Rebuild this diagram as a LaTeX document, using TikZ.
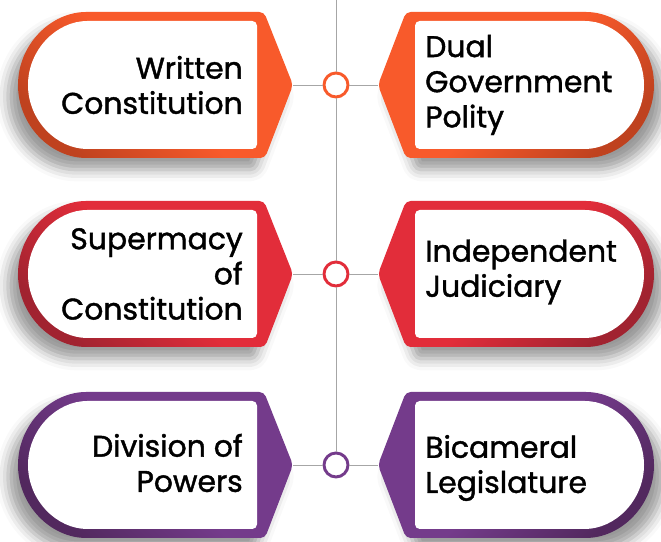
\documentclass[tikz,border=0pt]{standalone}
\usepackage{fontspec}
\setmainfont{Poppins}[FakeBold=1.4]
\usepackage{tikz}
\usetikzlibrary{shadows.blur}
\definecolor{orng}{HTML}{F85A2B}
\definecolor{orngdk}{HTML}{BF421F}
\definecolor{rd}{HTML}{E22D3A}
\definecolor{rddk}{HTML}{A12330}
\definecolor{prpl}{HTML}{743B8B}
\definecolor{prpldk}{HTML}{52285E}
\tikzstyle{hub} = [draw, circle, line width=2.5pt, fill=white, minimum size=0.72cm, inner sep=0]
\tikzstyle{link} = [draw=black!35, line width=0.8pt]
\tikzstyle{lefttext} = [anchor=east, align=right, inner sep=0, font=\fontsize{25.5}{30}\selectfont]
\tikzstyle{righttext} = [anchor=west, align=left, inner sep=0, font=\fontsize{25.5}{30}\selectfont]
\tikzstyle{leftshadow} = [blur shadow={shadow xshift=-0.3cm, shadow yshift=-0.35cm, shadow blur radius=0.35cm, shadow opacity=40}]
\tikzstyle{rightshadow} = [blur shadow={shadow xshift=0.3cm, shadow yshift=-0.35cm, shadow blur radius=0.35cm, shadow opacity=40}]
\tikzstyle{inner} = [fill=white, rounded corners=4pt]

\begin{document}
\begin{tikzpicture}[x=0.03cm, y=0.03cm]
\useasboundingbox (0,0) rectangle (661,542);

% top row
\path[leftshadow, top color=orng, bottom color=orngdk, middle color=orng, shading angle=-45, rounded corners=4pt]
(264,530) -- (293,457) -- (265,384) -- (91,384) arc[start angle=270, end angle=90, radius=2.19cm] -- cycle;
\path[inner] (257,521) -- (257,393) -- (92,393) arc[start angle=270, end angle=90, radius=1.92cm] -- cycle;
\path[rightshadow, top color=orng, bottom color=orngdk, middle color=orng, shading angle=45, rounded corners=4pt]
(406,530) -- (378,457) -- (406,384) -- (581,384) arc[start angle=-90, end angle=90, radius=2.19cm] -- cycle;
\path[inner] (415,521) -- (415,393) -- (580,393) arc[start angle=-90, end angle=90, radius=1.92cm] -- cycle;

% middle row
\path[leftshadow, top color=rd, bottom color=rddk, middle color=rd, shading angle=-45, rounded corners=4pt]
(264,341) -- (293,268) -- (265,195) -- (91,195) arc[start angle=270, end angle=90, radius=2.19cm] -- cycle;
\path[inner] (257,332) -- (257,204) -- (92,204) arc[start angle=270, end angle=90, radius=1.92cm] -- cycle;
\path[rightshadow, top color=rd, bottom color=rddk, middle color=rd, shading angle=45, rounded corners=4pt]
(406,341) -- (378,268) -- (406,195) -- (581,195) arc[start angle=-90, end angle=90, radius=2.19cm] -- cycle;
\path[inner] (415,332) -- (415,204) -- (580,204) arc[start angle=-90, end angle=90, radius=1.92cm] -- cycle;

% bottom row
\path[leftshadow, top color=prpl, bottom color=prpldk, middle color=prpl, shading angle=-45, rounded corners=4pt]
(264,150) -- (293,77) -- (265,4) -- (91,4) arc[start angle=270, end angle=90, radius=2.19cm] -- cycle;
\path[inner] (257,141) -- (257,13) -- (92,13) arc[start angle=270, end angle=90, radius=1.92cm] -- cycle;
\path[rightshadow, top color=prpl, bottom color=prpldk, middle color=prpl, shading angle=45, rounded corners=4pt]
(406,150) -- (378,77) -- (406,4) -- (581,4) arc[start angle=-90, end angle=90, radius=2.19cm] -- cycle;
\path[inner] (415,141) -- (415,13) -- (580,13) arc[start angle=-90, end angle=90, radius=1.92cm] -- cycle;

\node[lefttext] (written) at (243,457) {Written\\Constitution};
\node[righttext] (dual) at (425,457) {Dual\\Government\\Polity};
\node[lefttext] (supremacy) at (243,268) {Supermacy\\of\\Constitution};
\node[righttext] (judiciary) at (425,270) {Independent\\Judiciary};
\node[lefttext] (division) at (243,79) {Division of\\Powers};
\node[righttext] (bicameral) at (425,74) {Bicameral\\Legislature};

\coordinate (line_top) at (336,542);
\node[hub, draw=orng] (hub_top) at (336,457) {};
\node[hub, draw=rd] (hub_mid) at (336,268) {};
\node[hub, draw=prpl] (hub_low) at (336,77) {};
\coordinate (tip_wc) at (293,457);
\coordinate (tip_dg) at (378,457);
\coordinate (tip_sc) at (293,268);
\coordinate (tip_ij) at (378,268);
\coordinate (tip_dp) at (293,77);
\coordinate (tip_bl) at (378,77);

\path[link]
(line_top) -- (hub_top)
(hub_top) -- (hub_mid)
(hub_mid) -- (hub_low)
(tip_wc) -- (hub_top)
(hub_top) -- (tip_dg)
(tip_sc) -- (hub_mid)
(hub_mid) -- (tip_ij)
(tip_dp) -- (hub_low)
(hub_low) -- (tip_bl);

\end{tikzpicture}
\end{document}
